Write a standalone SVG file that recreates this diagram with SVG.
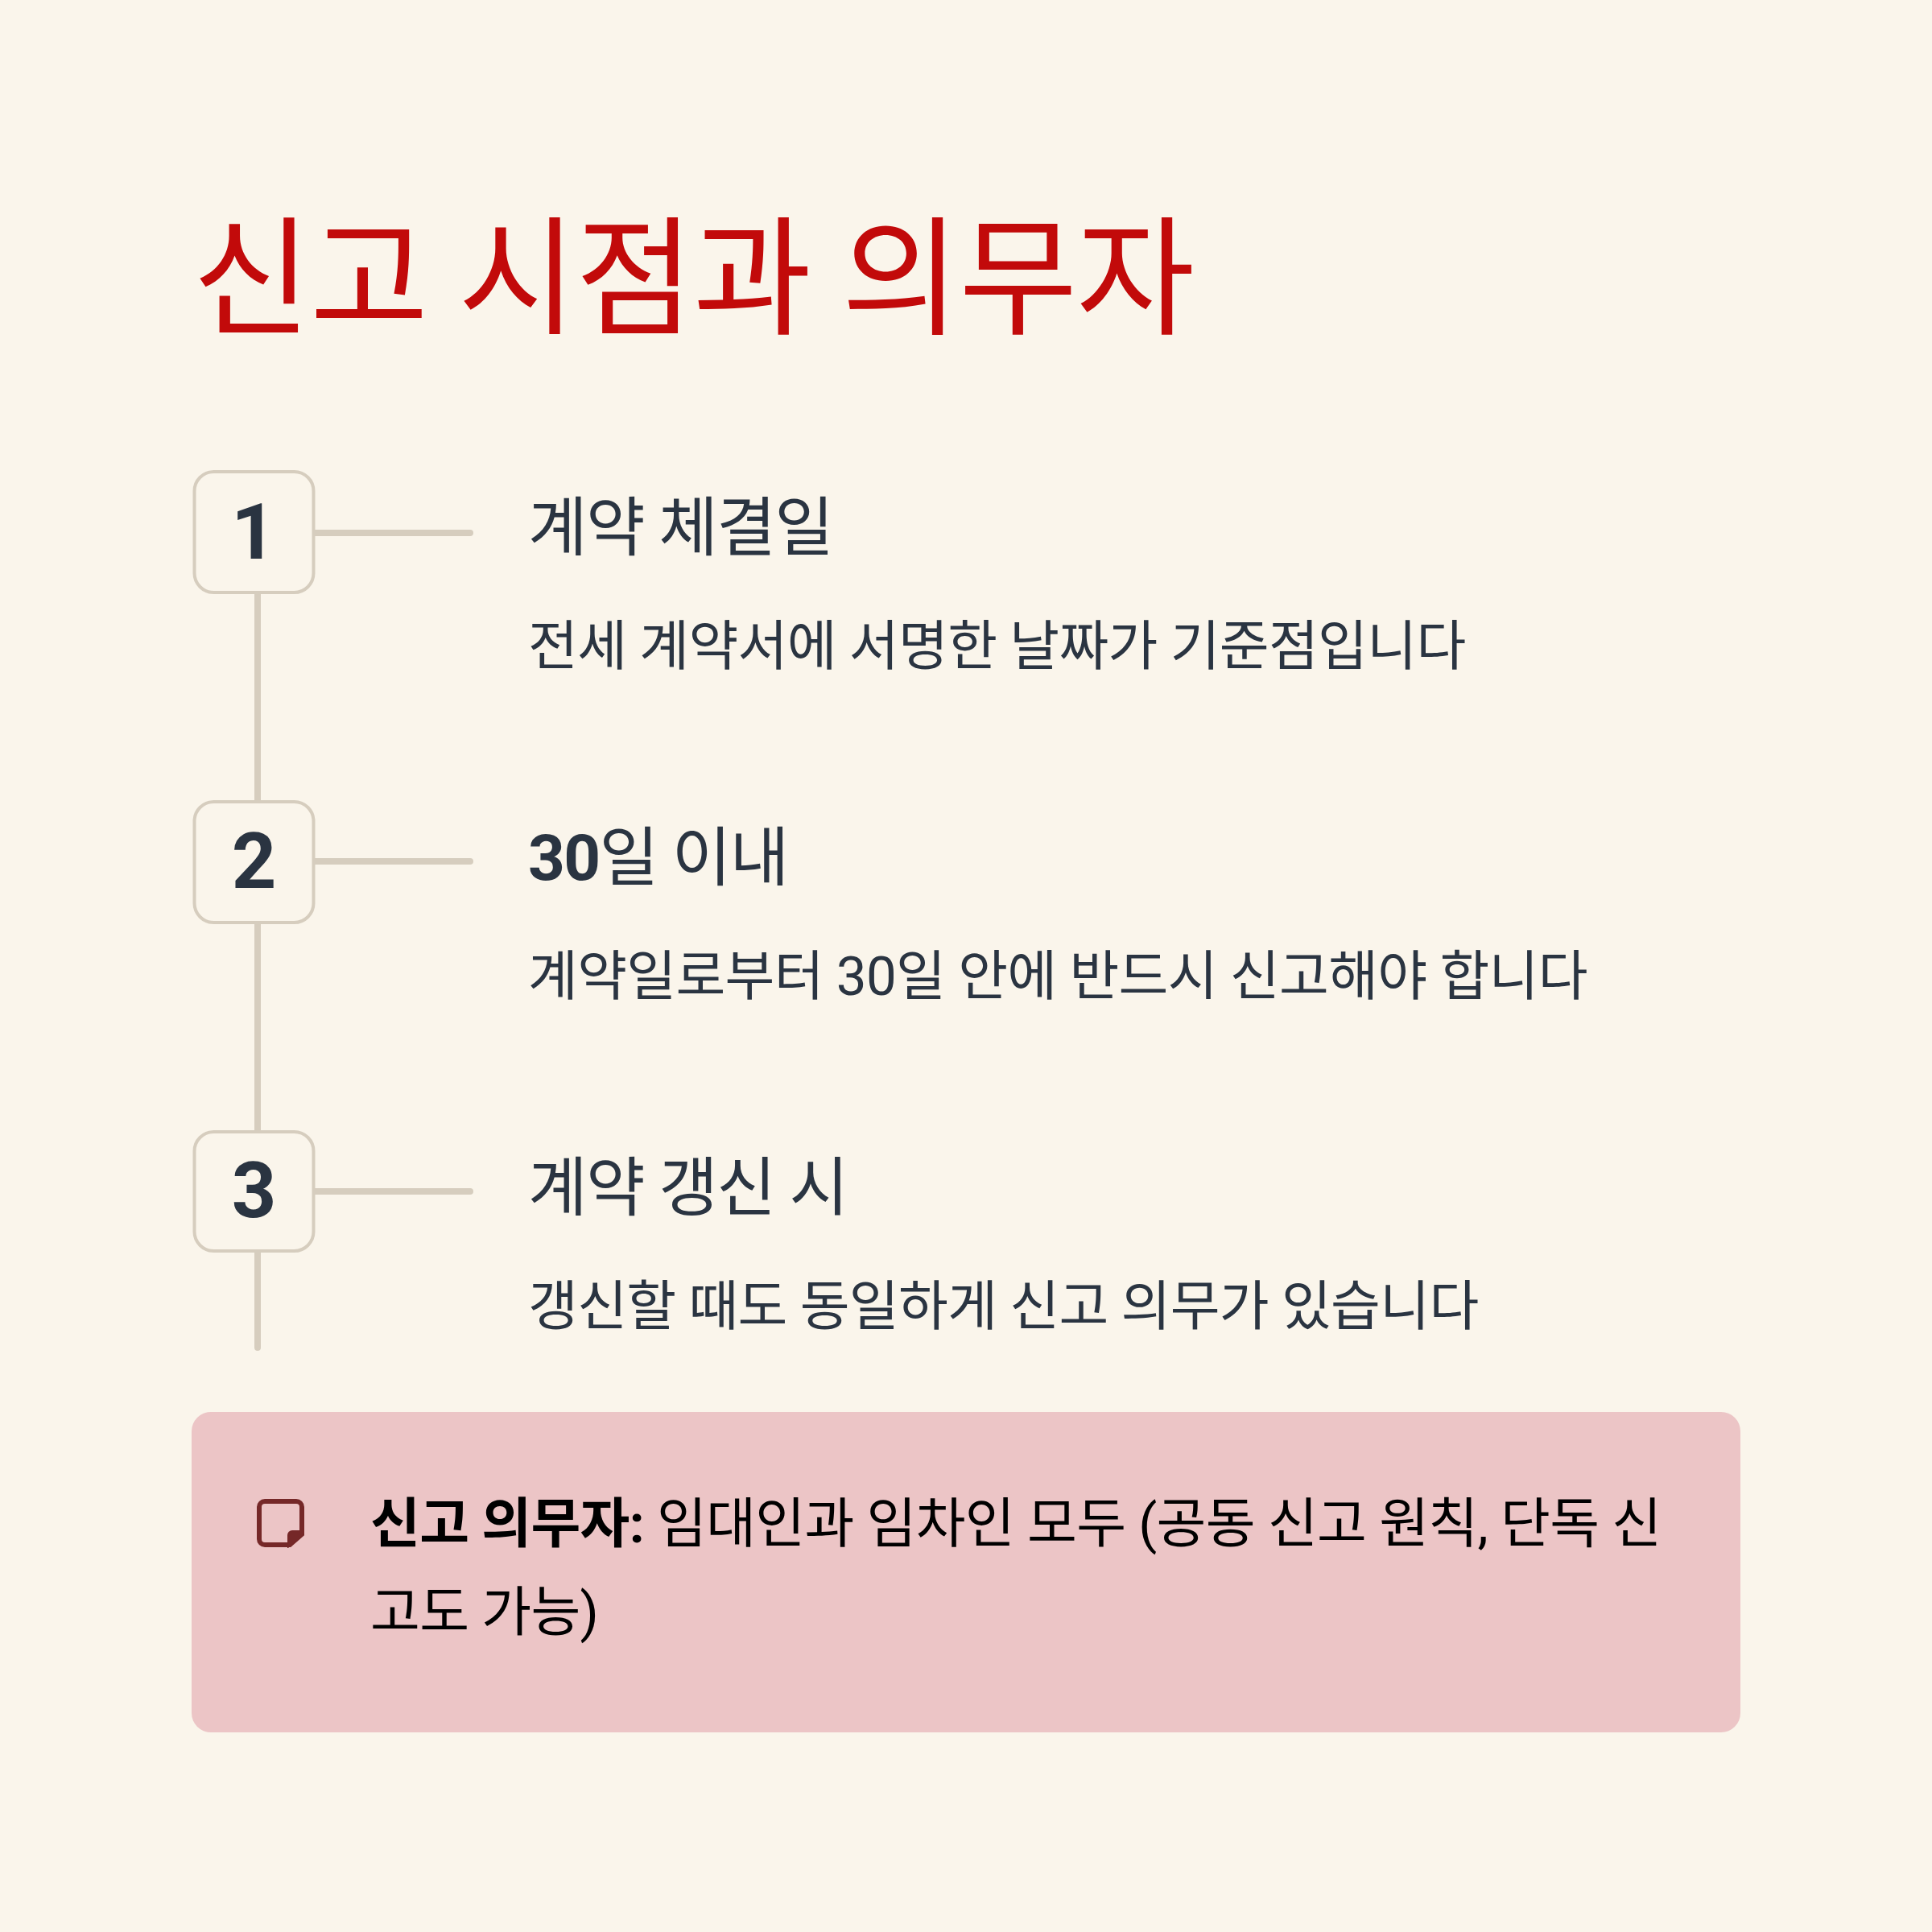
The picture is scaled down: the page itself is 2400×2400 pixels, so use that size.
<svg xmlns="http://www.w3.org/2000/svg" width="2400" height="2400" viewBox="0 0 2400 2400">
<style>
text{font-family:"Roboto","Noto Sans CJK KR",sans-serif}
.t{font-size:160px;fill:#c20a0a;letter-spacing:-1.3px}
.h{font-size:80px;font-weight:400;fill:#2a3441;letter-spacing:-1.6px}
.d{font-weight:700}
.b{font-size:67.200px;fill:#2a3441;letter-spacing:-0.67px}
.n{font-size:97px;font-weight:700;fill:#2a3441;text-anchor:middle}
.box{fill:#faf5eb;stroke:#d6cdbe;stroke-width:4}
.c{stroke:#d6cdbe;stroke-width:8;stroke-linecap:round;fill:none}
.note{font-size:67.200px;fill:#000;letter-spacing:-0.67px}
</style>
<rect width="2400" height="2400" fill="#faf5eb"/>
<text class="t" x="239" y="403">신고 시점과 의무자</text>
<g id="connectors">
<path class="c" d="M320 738V996M320 1148V1404M320 1556V1674M391 662H584M391 1070H584M391 1480H584"/>
</g>
<g id="step1"><rect class="box" x="241.500" y="586" width="148" height="150" rx="24"/><text class="n" x="315" y="694">1</text>
<text class="h" x="656" y="683">계약 체결일</text><text class="b" x="656" y="825.500">전세 계약서에 서명한 날짜가 기준점입니다</text></g>
<g id="step2"><rect class="box" x="241.500" y="996" width="148" height="150" rx="24"/><text class="n" x="315.500" y="1102.500">2</text>
<text class="h" x="656" y="1093"><tspan class="d">30</tspan>일 이내</text><text class="b" x="656" y="1235.500">계약일로부터 30일 안에 반드시 신고해야 합니다</text></g>
<g id="step3"><rect class="box" x="241.500" y="1406" width="148" height="148" rx="24"/><text class="n" x="315.500" y="1511.500">3</text>
<text class="h" x="656" y="1503">계약 갱신 시</text><text class="b" x="656" y="1645.500">갱신할 때도 동일하게 신고 의무가 있습니다</text></g>
<g id="note">
<rect x="238" y="1754" width="1924" height="398" rx="24" fill="#ecc5c6"/>
<path d="M329 1865h39a7 7 0 0 1 7 7v34l-15 13h-31a7 7 0 0 1-7-7v-40a7 7 0 0 1 7-7z" fill="none" stroke="#752828" stroke-width="6"/>
<path d="M357 1907a6 6 0 0 1 6-6h15v5l-20 17h-1z" fill="#752828"/>
<text class="note" x="460" y="1915.500"><tspan font-weight="700">신고 의무자:</tspan> 임대인과 임차인 모두 (공동 신고 원칙, 단독 신</text>
<text class="note" x="460" y="2025.500">고도 가능)</text>
</g>
</svg>
